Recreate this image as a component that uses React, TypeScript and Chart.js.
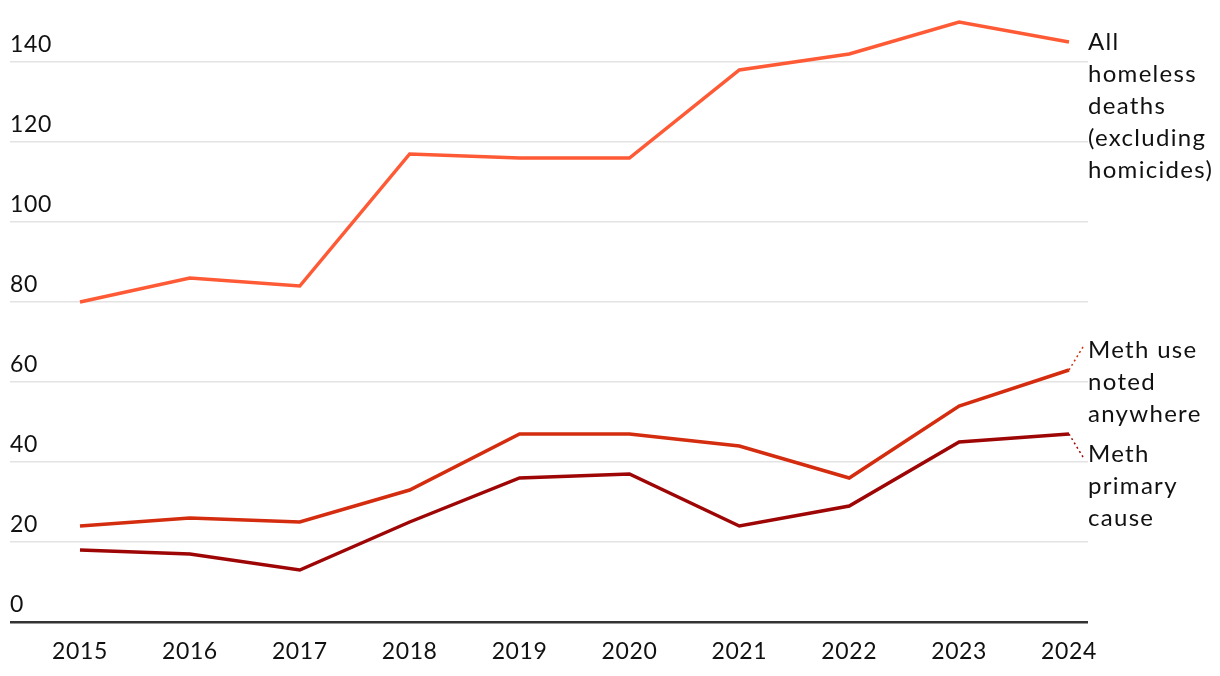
import React, { useEffect, useRef } from "react";
import { Chart, registerables } from "chart.js";

Chart.register(...registerables);

const years = [2015, 2016, 2017, 2018, 2019, 2020, 2021, 2022, 2023, 2024];
const allDeaths = [80, 86, 84, 117, 116, 116, 138, 142, 150, 145];
const methAnywhere = [24, 26, 25, 33, 47, 47, 44, 36, 54, 63];
const methPrimary = [18, 17, 13, 25, 36, 37, 24, 29, 45, 47];
const yTicks = [0, 20, 40, 60, 80, 100, 120, 140];

const labelAll = ["All", "homeless", "deaths", "(excluding", "homicides)"];
const labelAnywhere = ["Meth use", "noted", "anywhere"];
const labelPrimary = ["Meth", "primary", "cause"];

const FONT = "Lato, 'Noto Sans', sans-serif";
const C_ALL = "#ff5a36";
const C_ANY = "#d42c0e";
const C_PRI = "#9e0606";

const spacing = {
  id: "spacing",
  beforeDraw(chart: any) {
    (chart.ctx as any).letterSpacing = "0.6px";
  },
};

const endLabels = {
  id: "endLabels",
  afterDatasetsDraw(chart: any) {
    const { ctx, chartArea, scales } = chart;
    const xs = scales.x;
    const ys = scales.y;
    const last = years.length - 1;
    const px = xs.getPixelForValue(years[last]);
    const tx = chartArea.right;
    const lh = 32;
    ctx.save();
    ctx.font = `24px ${FONT}`;
    (ctx as any).letterSpacing = "1.3px";
    ctx.fillStyle = "#111";
    ctx.textAlign = "left";
    ctx.textBaseline = "middle";
    const draw = (lines: string[], y0: number) => {
      lines.forEach((l, i) => ctx.fillText(l, tx, y0 + i * lh));
    };
    const yAll = ys.getPixelForValue(allDeaths[last]);
    const yAny = ys.getPixelForValue(methAnywhere[last]);
    const yPri = ys.getPixelForValue(methPrimary[last]);
    draw(labelAll, yAll);
    draw(labelAnywhere, yAny - 20);
    draw(labelPrimary, yPri + 20);
    ctx.lineWidth = 1.5;
    ctx.setLineDash([2, 3]);
    ctx.strokeStyle = C_ANY;
    ctx.beginPath();
    ctx.moveTo(px, yAny);
    ctx.lineTo(tx - 5, yAny - 23);
    ctx.stroke();
    ctx.strokeStyle = C_PRI;
    ctx.beginPath();
    ctx.moveTo(px, yPri);
    ctx.lineTo(tx - 5, yPri + 23);
    ctx.stroke();
    ctx.restore();
  },
};

export default function App() {
  const ref = useRef<HTMLCanvasElement | null>(null);
  useEffect(() => {
    document.body.style.margin = "0";
    const toPts = (arr: number[]) => arr.map((v, i) => ({ x: years[i], y: v }));
    const ds = (data: number[], color: string) => ({
      data: toPts(data),
      borderColor: color,
      backgroundColor: color,
      borderWidth: 3.5,
      pointRadius: 0,
      tension: 0,
      clip: false as any,
    });
    const chart = new Chart(ref.current as HTMLCanvasElement, {
      type: "line",
      data: {
        datasets: [
          ds(allDeaths, C_ALL),
          ds(methAnywhere, C_ANY),
          ds(methPrimary, C_PRI),
        ],
      },
      plugins: [spacing, endLabels],
      options: {
        animation: false,
        responsive: false,
        maintainAspectRatio: false,
        layout: { padding: { left: 0, right: 132, top: 22, bottom: 0 } },
        plugins: { legend: { display: false }, tooltip: { enabled: false } },
        scales: {
          x: {
            type: "linear",
            min: 2014.363,
            max: 2024.173,
            afterBuildTicks: (s: any) => {
              s.ticks = years.map((v) => ({ value: v }));
            },
            afterFit: (s: any) => {
              s.height = 54;
            },
            grid: { display: false, drawTicks: false },
            border: { display: false },
            ticks: {
              padding: 16,
              color: "#111",
              font: { family: FONT, size: 23 },
              callback: (v: any) => String(v),
              maxRotation: 0,
              autoSkip: false,
            },
          },
          y: {
            min: 0,
            max: 150,
            afterBuildTicks: (s: any) => {
              s.ticks = yTicks.map((v) => ({ value: v }));
            },
            afterFit: (s: any) => {
              s.width = 10;
            },
            grid: {
              drawTicks: false,
              color: (c: any) => (c.tick && c.tick.value === 0 ? "#333" : "#e3e3e3"),
              lineWidth: (c: any) => (c.tick && c.tick.value === 0 ? 2.5 : 1.5),
            },
            border: { display: false },
            ticks: {
              mirror: true,
              padding: 0,
              labelOffset: -17,
              color: "#111",
              font: { family: FONT, size: 23 },
            },
          },
        },
      },
    });
    return () => chart.destroy();
  }, []);
  return (
    <div style={{ width: 1220, height: 676 }}>
      <canvas ref={ref} width={1220} height={676} style={{ display: "block", width: 1220, height: 676 }} />
    </div>
  );
}
